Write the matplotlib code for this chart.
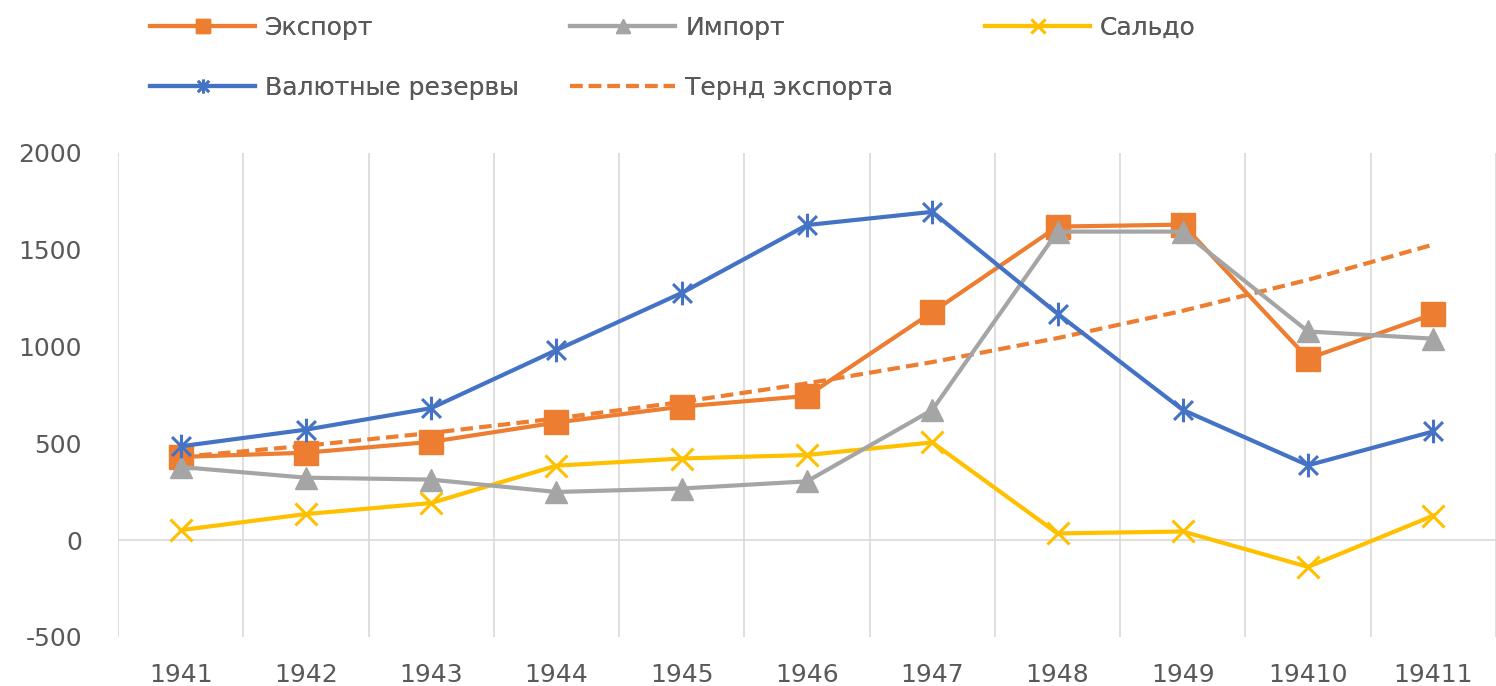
import matplotlib
matplotlib.use("Agg")
import matplotlib.pyplot as plt
from matplotlib.path import Path
from matplotlib.lines import Line2D

plt.rcParams["font.family"] = ["DejaVu Sans"]
plt.rcParams["axes.unicode_minus"] = False

years = ["1941", "1942", "1943", "1944", "1945", "1946", "1947", "1948", "1949", "19410", "19411"]
export = [430, 452, 508, 608, 690, 745, 1178, 1620, 1630, 938, 1168]
imports = [378, 323, 313, 249, 267, 304, 673, 1594, 1594, 1078, 1041]
saldo = [52, 135, 192, 385, 422, 440, 505, 35, 45, -138, 127]
reserves = [485, 571, 682, 982, 1277, 1628, 1696, 1170, 673, 387, 562]
export_trend = [430, 488, 554, 629, 714, 810, 920, 1044, 1185, 1345, 1527]

ORANGE = "#ED7D31"
GRAY = "#A5A5A5"
YELLOW = "#FFC000"
BLUE = "#4472C4"
TEXT = "#595959"
GRID = "#D9D9D9"

# Excel-style star marker: an X with a vertical bar
star = Path(
    [(0, -1), (0, 1), (-0.8, -0.8), (0.8, 0.8), (-0.8, 0.8), (0.8, -0.8)],
    [Path.MOVETO, Path.LINETO, Path.MOVETO, Path.LINETO, Path.MOVETO, Path.LINETO],
)
trend_dash = (0, (3, 1.5))

fig = plt.figure(figsize=(14.96, 6.86), dpi=100)
ax = fig.add_axes([118 / 1496, 1 - 637 / 686, 1 - 118 / 1496, (637 - 153) / 686])

x = list(range(len(years)))
lw = 3

ax.plot(x, export, color=ORANGE, lw=lw, marker="s", ms=17, zorder=4)
ax.plot(x, imports, color=GRAY, lw=lw, marker="^", ms=16, zorder=5)
ax.plot(x, saldo, color=YELLOW, lw=lw, marker="x", ms=16, mew=2.2, zorder=3)
ax.plot(x, reserves, color=BLUE, lw=lw, marker=star, ms=17, mew=2.2, zorder=6)
ax.plot(x, export_trend, color=ORANGE, lw=lw, ls=trend_dash, zorder=4)

ax.set_xlim(-0.5, len(years) - 0.5)
ax.set_ylim(-500, 2000)
ax.set_yticks([-500, 0, 500, 1000, 1500, 2000])
ax.set_xticks(x)
ax.set_xticklabels(years)
ax.set_xticks([i - 0.5 for i in range(len(years) + 1)], minor=True)
ax.grid(True, which="minor", axis="x", color=GRID, lw=1.2)
ax.grid(False, which="major")
ax.axhline(0, color=GRID, lw=1.2, zorder=1)
for s in ax.spines.values():
    s.set_visible(False)
ax.tick_params(axis="both", which="both", length=0, colors=TEXT, labelsize=18)
ax.tick_params(axis="x", pad=19)
ax.tick_params(axis="y", pad=26)

# legend: small-marker proxies, one entry per slot like Excel's grid legend
entries = [
    (Line2D([], [], color=ORANGE, lw=lw, marker="s", ms=10), "Экспорт", 150, 28),
    (Line2D([], [], color=GRAY, lw=lw, marker="^", ms=10), "Импорт", 570, 28),
    (Line2D([], [], color=YELLOW, lw=lw, marker="x", ms=10, mew=2), "Сальдо", 985, 28),
    (Line2D([], [], color=BLUE, lw=lw, marker=star, ms=10, mew=2), "Валютные резервы", 150, 88),
    (Line2D([], [], color=ORANGE, lw=lw, ls=trend_dash), "Тернд экспорта", 570, 88),
]
for handle, label, lx, ly in entries:
    leg = fig.legend(
        handles=[handle], labels=[label], loc="center left",
        bbox_to_anchor=(lx / 1496, 1 - ly / 686), frameon=False, fontsize=18,
        labelcolor=TEXT, handlelength=105 / 25, handletextpad=0.4,
        borderaxespad=0, borderpad=0,
    )
    fig.add_artist(leg)

fig.savefig("out.png", dpi=100)
